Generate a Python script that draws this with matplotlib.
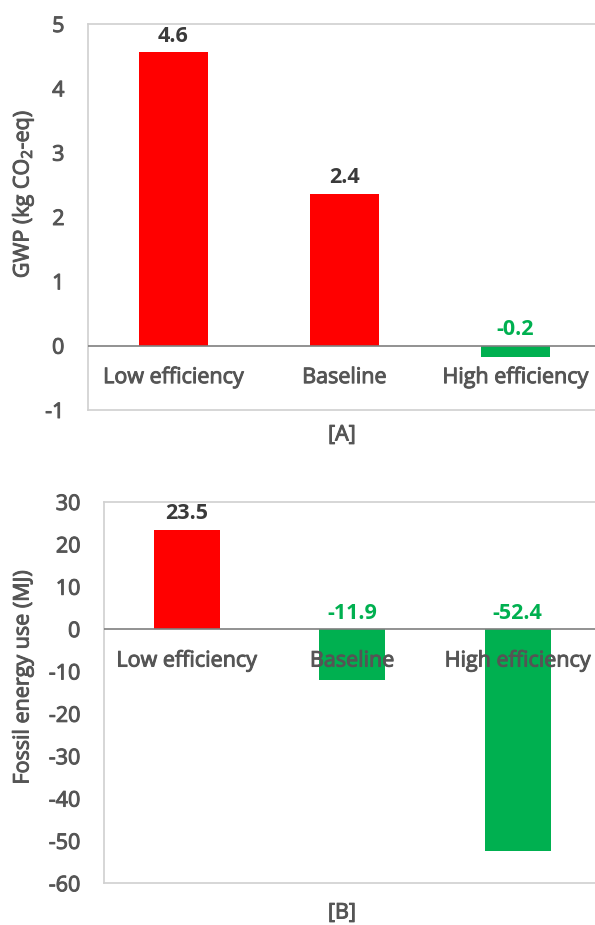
import matplotlib.pyplot as plt
import matplotlib.patheffects as pe

plt.rcParams['font.family'] = ['Open Sans', 'DejaVu Sans']
plt.rcParams['mathtext.fontset'] = 'custom'
plt.rcParams['mathtext.rm'] = 'Open Sans'
plt.rcParams['mathtext.it'] = 'Open Sans'
plt.rcParams['axes.unicode_minus'] = False

scenarios = ["Low efficiency", "Baseline", "High efficiency"]
gwp = [4.56, 2.36, -0.17]
fossil = [23.5, -11.9, -52.4]

RED = "#FF0000"
GREEN = "#00B050"
TEXT = "#555555"
VALUE = "#3A3A3A"
FRAME = "#D0D0D0"
FS = 15.5
# thicken regular text a bit, like the semibold look of the original
heavy = [pe.withStroke(linewidth=0.7, foreground=TEXT)]


def draw_panel(ax, values, ylim, yticks):
    x = range(len(values))
    colors = [RED if v > 0 else GREEN for v in values]
    ax.bar(x, values, width=0.4, color=colors, zorder=2)
    ax.set_xlim(-0.5, 2.5)
    ax.set_ylim(*ylim)
    ax.set_yticks(yticks)
    ax.set_xticks([])
    ax.tick_params(axis='y', length=0, pad=17, labelsize=FS, labelcolor=TEXT)
    for lab in ax.get_yticklabels():
        lab.set_path_effects(heavy)
    for s in ax.spines.values():
        s.set_color(FRAME)
        s.set_linewidth(1.2)
    ax.axhline(0, color="#7F7F7F", lw=1.2, zorder=3)
    for i, v in enumerate(values):
        top = max(v, 0)
        col = VALUE if v > 0 else GREEN
        ax.annotate(f"{v:.1f}", (i, top), xytext=(0, 4), textcoords='offset points',
                    ha='center', va='bottom', fontsize=FS, fontweight='bold', color=col)
        ax.annotate(scenarios[i], (i, 0), xytext=(0, -23), textcoords='offset points',
                    ha='center', va='center', fontsize=FS, color=TEXT, zorder=4,
                    path_effects=heavy)


fig = plt.figure(figsize=(5.95, 9.25), dpi=100)

ax1 = fig.add_axes([88 / 595, 1 - 410 / 925, 513 / 595, 386 / 925])
draw_panel(ax1, gwp, (-1, 5), range(-1, 6))

ax2 = fig.add_axes([104 / 595, 1 - 883.3 / 925, 496.5 / 595, 381.3 / 925])
draw_panel(ax2, fossil, (-60, 30), range(-60, 31, 10))

fig.text(23 / 595, 1 - 194 / 925, "GWP (kg CO$_2$-eq)", rotation=90, ha='center', va='center',
         fontsize=FS, color=TEXT, path_effects=heavy)
fig.text(23 / 595, 1 - 677 / 925, "Fossil energy use (MJ)", rotation=90, ha='center', va='center',
         fontsize=FS, color=TEXT, path_effects=heavy)
fig.text(342 / 595, 1 - 435 / 925, "[A]", ha='center', va='center', fontsize=FS, color=TEXT,
         path_effects=heavy)
fig.text(342 / 595, 1 - 913 / 925, "[B]", ha='center', va='center', fontsize=FS, color=TEXT,
         path_effects=heavy)

fig.savefig("out.png", dpi=100)
